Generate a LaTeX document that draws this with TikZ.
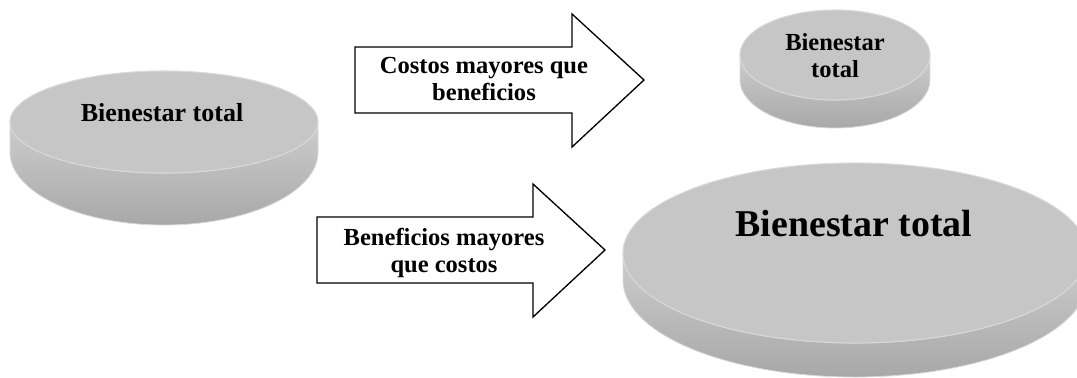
\documentclass[tikz,border=0pt]{standalone}
\usepackage{fontspec}
\setmainfont{Liberation Serif}
\definecolor{facegray}{RGB}{198,198,198}
\definecolor{rimgray}{RGB}{216,216,216}
\definecolor{sidetop}{RGB}{205,205,205}
\definecolor{sidebot}{RGB}{168,168,168}
\newcommand\drawdisk[6]{%
  \path[sidefill] ({#1+#3},#2) -- ({#1+#3},{#2+#5})
    arc[start angle=0,end angle=180,x radius=#3,y radius=#6]
    -- ({#1-#3},#2)
    arc[start angle=180,end angle=0,x radius=#3,y radius=#4] -- cycle;
  \path[facefill] (#1,#2) ellipse[x radius=#3,y radius=#4];
}
\begin{document}
\begin{tikzpicture}[x=0.75pt,y=-0.75pt,
  facefill/.style={fill=facegray, draw=rimgray, line width=0.8pt},
  sidefill/.style={top color=sidetop, bottom color=sidebot, draw=rimgray, line width=0.6pt},
  blockarrow/.style={draw=black, fill=white, line width=1pt, line join=miter},
  lbl/.style={font=\bfseries\fontsize{18.4}{20.6}\selectfont, align=center, inner sep=0pt},
  biglbl/.style={font=\bfseries\fontsize{28.4}{32}\selectfont, inner sep=0pt},
]
\useasboundingbox (0,0) rectangle (1077,378);
\begin{scope}
\clip (0,0) rectangle (1077,378);
% left disk
\drawdisk{164}{122}{154}{51}{30}{73}
% small disk
\drawdisk{835}{55}{95}{45}{25}{48}
% large disk
\drawdisk{855}{253}{232}{90}{27}{97}
\end{scope}

% block arrows
\coordinate (a1) at (355,47);
\coordinate (a2) at (572,47);
\coordinate (a3) at (572,14);
\coordinate (a4) at (644,80);
\coordinate (a5) at (572,147);
\coordinate (a6) at (572,113);
\coordinate (a7) at (355,113);
\draw[blockarrow] (a1) -- (a2) -- (a3) -- (a4) -- (a5) -- (a6) -- (a7) -- cycle;

\coordinate (b1) at (317,217);
\coordinate (b2) at (533,217);
\coordinate (b3) at (533,184);
\coordinate (b4) at (605,250);
\coordinate (b5) at (533,317);
\coordinate (b6) at (533,283);
\coordinate (b7) at (317,283);
\draw[blockarrow] (b1) -- (b2) -- (b3) -- (b4) -- (b5) -- (b6) -- (b7) -- cycle;

% labels
\node[lbl, font=\bfseries\fontsize{19.5}{22}\selectfont, anchor=base] (t1) at (162,121.7) {Bienestar total};
\node[lbl] (t2) at (835,55.5) {Bienestar\\total};
\node[biglbl, anchor=base] (t3) at (854,236) {Bienestar total};
\node[lbl] (t4) at (484,79) {Costos mayores que\\beneficios};
\node[lbl] (t5) at (444,253) {Beneficios mayores\\que costos};
\end{tikzpicture}
\end{document}
